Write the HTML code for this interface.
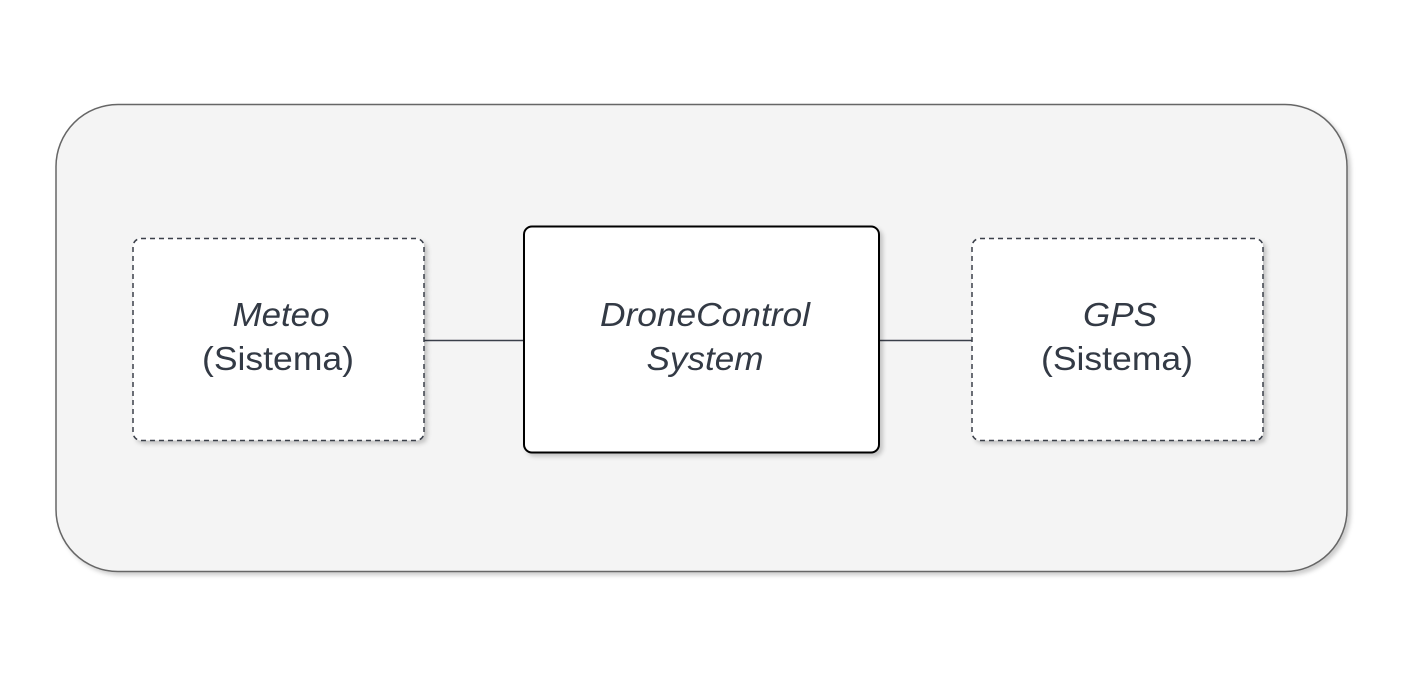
<!DOCTYPE html>
<html><head><style>body{margin:0;background:#fff}svg{display:block}</style></head>
<body>
<svg width="1404" height="697" viewBox="0 0 1404 697" xmlns="http://www.w3.org/2000/svg">
<defs><filter id="s" x="-10%" y="-10%" width="130%" height="130%"><feDropShadow dx="3" dy="3" stdDeviation="2" flood-color="#000" flood-opacity="0.2"/></filter></defs>
<rect x="56" y="104.5" width="1291" height="467" rx="62" fill="#f4f4f4" stroke="#666" stroke-width="1.5" filter="url(#s)"/>
<line x1="424" y1="340.5" x2="524" y2="340.5" stroke="#3a3f4a" stroke-width="1.5"/>
<line x1="879" y1="340.5" x2="972" y2="340.5" stroke="#3a3f4a" stroke-width="1.5"/>
<rect x="133" y="238.5" width="291" height="202" rx="8" fill="#fff" stroke="#3a3f4a" stroke-width="1.5" stroke-dasharray="5,4" filter="url(#s)"/>
<rect x="972" y="238.5" width="291" height="202" rx="8" fill="#fff" stroke="#3a3f4a" stroke-width="1.5" stroke-dasharray="5,4" filter="url(#s)"/>
<rect x="524" y="226.5" width="355" height="226" rx="8" fill="#fff" stroke="#000" stroke-width="2" filter="url(#s)"/>
<g font-family="Liberation Sans, sans-serif" font-size="33" fill="#333a45" text-anchor="middle" lengthAdjust="spacingAndGlyphs">
<text x="281" y="326" font-style="italic" textLength="97" lengthAdjust="spacingAndGlyphs">Meteo</text>
<text x="278" y="370" textLength="152" lengthAdjust="spacingAndGlyphs">(Sistema)</text>
<text x="705" y="326" font-style="italic" textLength="210" lengthAdjust="spacingAndGlyphs">DroneControl</text>
<text x="705" y="370" font-style="italic" textLength="117" lengthAdjust="spacingAndGlyphs">System</text>
<text x="1120" y="326" font-style="italic" textLength="74" lengthAdjust="spacingAndGlyphs">GPS</text>
<text x="1117" y="370" textLength="152" lengthAdjust="spacingAndGlyphs">(Sistema)</text>
</g>
</svg>
</body></html>
